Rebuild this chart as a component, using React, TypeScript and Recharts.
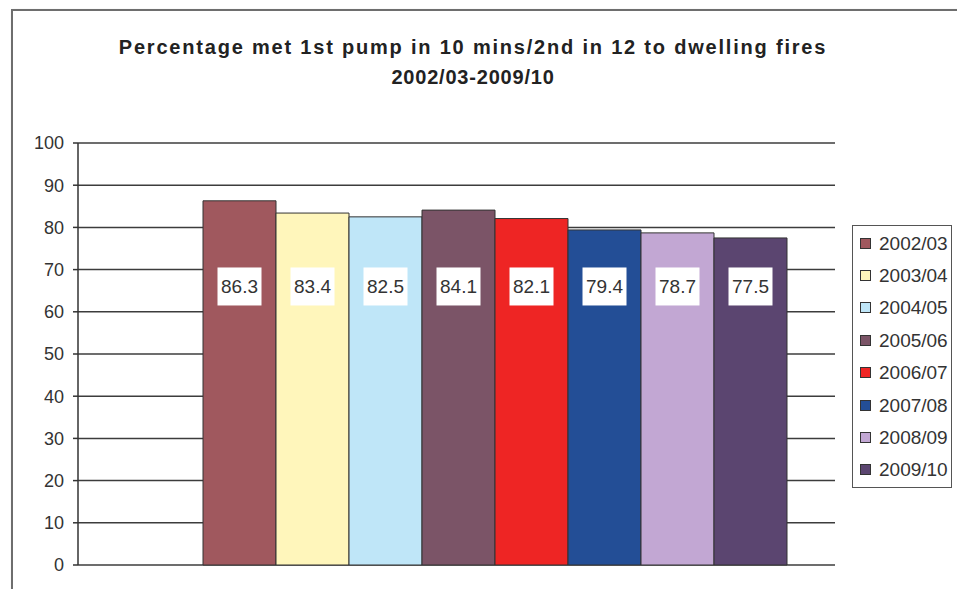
import { BarChart, Bar, XAxis, YAxis, CartesianGrid } from "recharts";

const SEASONS = ["2002/03", "2003/04", "2004/05", "2005/06", "2006/07", "2007/08", "2008/09", "2009/10"];
const VALUES = [86.3, 83.4, 82.5, 84.1, 82.1, 79.4, 78.7, 77.5];
const COLORS = ["#a0585e", "#fff6bb", "#bfe6f8", "#7b5467", "#ee2524", "#234e96", "#c2a7d3", "#5b4570"];
const Y_TICKS = [0, 10, 20, 30, 40, 50, 60, 70, 80, 90, 100];

const TITLE_1 = "Percentage met 1st pump in 10 mins/2nd in 12 to dwelling fires";
const TITLE_2 = "2002/03-2009/10";

// all data labels sit at the same height on the value axis
const LABEL_LEVEL = 66;

const FONT = "'Liberation Sans', Arial, sans-serif";
const INK = "#333";

const row: Record<string, string | number> = { name: "" };
SEASONS.forEach((s, i) => (row[s] = VALUES[i]));
const data = [row];

function ValueLabel(props: any) {
  const { x, y, width, height, value } = props;
  const cx = x + width / 2;
  const cy = y + height - (LABEL_LEVEL * height) / value;
  return (
    <g>
      <rect x={cx - 22} y={cy - 19} width={44} height={38} fill="#fff" />
      <text
        x={cx}
        y={cy}
        textAnchor="middle"
        dominantBaseline="central"
        fill={INK}
        fontSize={19}
        fontFamily={FONT}
      >
        {value}
      </text>
    </g>
  );
}

function LegendBox() {
  return (
    <div
      style={{
        position: "absolute",
        left: 852,
        top: 225,
        width: 98,
        border: "1.5px solid #555",
        padding: "1px 0",
        background: "#fff",
        fontFamily: FONT,
        fontSize: 19,
        color: INK,
      }}
    >
      {SEASONS.map((s, i) => (
        <div key={s} style={{ height: 32.4, display: "flex", alignItems: "center", paddingLeft: 7 }}>
          <span
            style={{
              width: 9,
              height: 9,
              background: COLORS[i],
              border: "1px solid #333",
              marginRight: 8,
              display: "inline-block",
            }}
          />
          <span style={{ lineHeight: 1 }}>{s}</span>
        </div>
      ))}
    </div>
  );
}

export default function App() {
  const titleStyle = {
    fontFamily: FONT,
    fontWeight: "bold" as const,
    fontSize: 20,
    lineHeight: "30px",
    color: "#222",
  };
  return (
    <div style={{ position: "fixed", left: 0, top: 0, width: 957, height: 589, overflow: "hidden", background: "#fff" }}>
      <div
        style={{
          position: "absolute",
          left: 11,
          top: 9,
          width: 1100,
          height: 800,
          border: "2px solid #6e6e6e",
          boxShadow: "1px 1px 2px #bbb",
        }}
      />
      <div style={{ position: "absolute", left: 0, top: 32, width: 946, textAlign: "center" }}>
        <div style={{ ...titleStyle, letterSpacing: 1.8 }}>{TITLE_1}</div>
        <div style={{ ...titleStyle, letterSpacing: 0.8 }}>{TITLE_2}</div>
      </div>
      <div style={{ position: "absolute", left: 0, top: 0 }}>
        <BarChart
          width={957}
          height={589}
          data={data}
          margin={{ top: 143, right: 122, bottom: 24, left: 18 }}
          barCategoryGap={50}
          barGap={0}
        >
          <CartesianGrid vertical={false} stroke="#3c3c3c" strokeWidth={1.5} />
          <XAxis dataKey="name" hide padding={{ left: 75, right: 0 }} />
          <YAxis
            width={60}
            domain={[0, 100]}
            ticks={Y_TICKS}
            interval={0}
            tickSize={5}
            tickMargin={9}
            axisLine={{ stroke: "#333", strokeWidth: 1.5 }}
            tickLine={{ stroke: "#333", strokeWidth: 1.5 }}
            tick={{ fill: INK, fontSize: 18, fontFamily: FONT }}
          />
          {SEASONS.map((s, i) => (
            <Bar
              key={s}
              dataKey={s}
              name={s}
              fill={COLORS[i]}
              stroke="#333"
              strokeWidth={1}
              isAnimationActive={false}
              label={<ValueLabel />}
            />
          ))}
        </BarChart>
      </div>
      <LegendBox />
    </div>
  );
}
